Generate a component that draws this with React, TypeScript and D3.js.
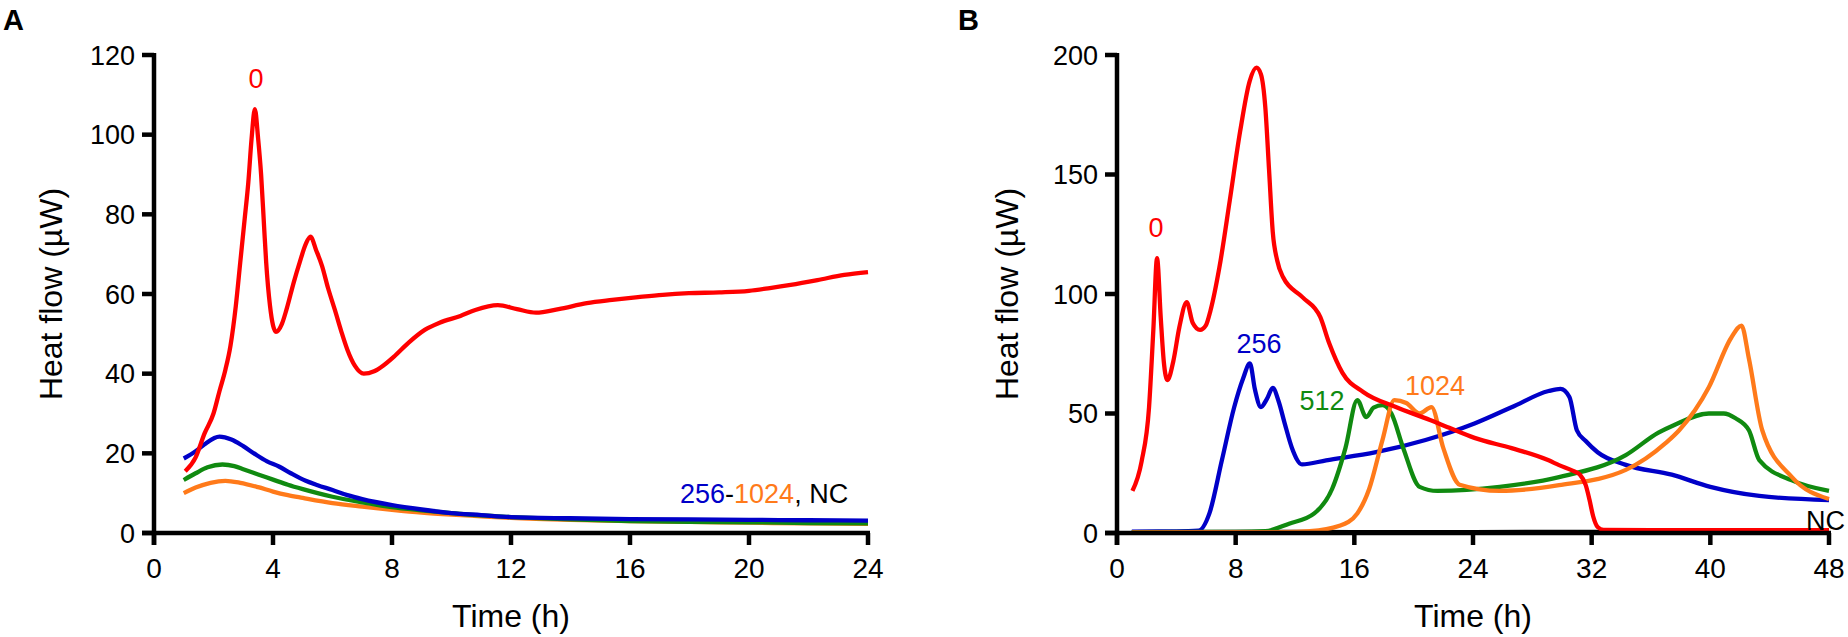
import React from "react";
import * as d3 from "d3";

// ---------- DATA ----------
// Panel A (0-24 h)
const aXTicks = [0, 4, 8, 12, 16, 20, 24];
const aYTicks = [0, 20, 40, 60, 80, 100, 120];
const aRed: [number, number][] = [
  [1.05, 15.5], [1.4, 19], [1.7, 25], [2.0, 30], [2.2, 35.6], [2.4, 41], [2.57, 47], [2.75, 57], [2.9, 68], [3.05, 79],
  [3.17, 88], [3.28, 99], [3.39, 106.4], [3.5, 99], [3.6, 90], [3.7, 77], [3.77, 68], [3.9, 57], [4.1, 50.5],
  [4.3, 52.5], [4.45, 56], [4.7, 63], [4.9, 68], [5.1, 72.5], [5.26, 74.4], [5.45, 71],
  [5.65, 67], [5.85, 61.5], [6.08, 56], [6.3, 50.5], [6.5, 46], [6.75, 42], [7.05, 40], [7.4, 40.6],
  [7.7, 42], [8.1, 44.5], [8.56, 47.8], [9.1, 51], [9.6, 52.8], [10.3, 54.5], [10.8, 56], [11.56, 57.2],
  [12.2, 56.2], [12.84, 55.3], [13.6, 56.2], [14.55, 57.7], [15.4, 58.5], [16.27, 59.2], [17.1, 59.8], [17.98, 60.2],
  [19.0, 60.4], [20.0, 60.8], [20.7, 61.5], [21.4, 62.3], [22.3, 63.5], [23.2, 64.8], [24.0, 65.5]
];
const aBlue: [number, number][] = [
  [1.0, 18.7], [1.4, 20.5], [1.7, 22.3], [2.2, 24.2], [2.6, 23.5], [3.0, 21.8], [3.4, 19.8], [3.8, 18.0], [4.2, 16.7],
  [4.6, 15.0], [5.1, 13.1], [5.5, 12.0], [6.0, 10.8], [6.5, 9.5], [7.0, 8.5], [8.0, 7.0], [9.0, 5.9], [10.0, 5.0],
  [11.0, 4.5], [12.0, 4.0], [14.0, 3.7], [16.0, 3.5], [18.0, 3.4], [20.0, 3.3], [22.0, 3.2], [24.0, 3.1]
];
const aGreen: [number, number][] = [
  [1.0, 13.3], [1.4, 15.0], [1.8, 16.5], [2.3, 17.2], [2.7, 16.8], [3.0, 16.0], [3.5, 14.7], [4.0, 13.4], [4.5, 12.1],
  [5.0, 11.0], [5.5, 10.0], [6.0, 9.1], [7.0, 7.7], [8.0, 6.5], [9.0, 5.7], [10.0, 5.0], [11.0, 4.4], [12.0, 4.0],
  [14.0, 3.4], [16.0, 3.0], [18.0, 2.8], [20.0, 2.7], [22.0, 2.5], [24.0, 2.4]
];
const aOrange: [number, number][] = [
  [1.0, 10.0], [1.4, 11.4], [1.9, 12.6], [2.4, 13.1], [2.9, 12.6], [3.5, 11.5], [4.0, 10.4], [4.5, 9.5], [5.0, 8.8],
  [6.0, 7.5], [7.0, 6.6], [8.0, 5.8], [9.0, 5.1], [10.0, 4.6], [11.0, 4.2], [12.0, 3.8], [14.0, 3.3], [16.0, 3.0],
  [18.0, 2.8], [20.0, 2.6], [22.0, 2.4], [24.0, 2.3]
];

// Panel B (0-48 h)
const bXTicks = [0, 8, 16, 24, 32, 40, 48];
const bYTicks = [0, 50, 100, 150, 200];
const bRed: [number, number][] = [
  [1.04, 17.6], [1.66, 30], [2.16, 52.6], [2.45, 85], [2.7, 115], [2.95, 90], [3.15, 72], [3.4, 64], [3.8, 72],
  [4.2, 86], [4.7, 96.6], [5.1, 88], [5.6, 85], [6.0, 87], [6.3, 93], [6.9, 111], [7.6, 139], [8.3, 168],
  [8.94, 189], [9.4, 194.7], [9.7, 192], [10.0, 178], [10.25, 152], [10.5, 126], [10.8, 114], [11.2, 107],
  [12.5, 98.7], [13.7, 90.4], [14.3, 79.5], [15.2, 67], [16.6, 59], [18.8, 52.7], [21.1, 47.3], [22.4, 44],
  [24.1, 39.8], [26.6, 35.5], [29.1, 30.4], [29.8, 28.4], [30.75, 26], [31.2, 24.5], [31.6, 20], [31.85, 14],
  [32.1, 7], [32.4, 2.5], [32.8, 1.3], [36, 1.2], [40, 1.2], [44, 1.2], [48, 1.2]
];
const bBlue: [number, number][] = [
  [1.0, 0.6], [4.0, 0.7], [5.5, 1.0], [6.23, 8.2], [7.07, 30.4], [7.9, 52.6], [8.5, 64.6], [8.96, 71],
  [9.3, 60], [9.7, 52.7], [10.1, 56], [10.5, 60.7], [10.9, 55], [11.3, 46], [11.8, 35.5], [12.47, 28.7],
  [14.1, 30.4], [17.46, 33.8], [20.8, 38.9], [24.1, 45.8], [26.6, 52.6], [29.1, 59.4], [29.9, 60.3],
  [30.5, 56.9], [31.0, 43], [31.6, 38.5], [32.4, 33.8], [34.3, 28.5], [37.4, 24.4], [40.0, 19.3],
  [43.3, 15.5], [48.0, 13.8]
];
const bGreen: [number, number][] = [
  [1.0, 0.4], [8.0, 0.5], [10.0, 0.8], [11.6, 3.9], [13.3, 8.2], [14.5, 18.4], [15.4, 35.5], [16.2, 55.6],
  [16.8, 48.5], [17.3, 52.5], [17.9, 53.5], [18.5, 50], [19.3, 35.5], [20.4, 19.3], [21.6, 17.6],
  [25.8, 19.3], [29.8, 23.4], [34.3, 32.6], [36.5, 42], [37.5, 45], [39.9, 50], [40.9, 50], [41.7, 48],
  [42.6, 43], [43.3, 30.5], [45.5, 22], [48.0, 17.6]
];
const bOrange: [number, number][] = [
  [1.0, 0.3], [11.0, 0.4], [13.0, 0.8], [15.0, 3.0], [16.2, 8.2], [17.0, 18.4], [17.9, 39], [18.7, 55.6],
  [19.5, 54.4], [20.4, 50], [21.2, 52.7], [22.0, 35.5], [23.1, 20.2], [25.8, 17.6], [29.8, 20], [34.3, 26.4],
  [37.0, 37.7], [37.9, 43], [39.9, 61], [41.4, 81.6], [42.1, 86.8], [42.6, 73], [43.5, 43], [45.5, 23.4],
  [48.0, 14.2]
];
const bNC: [number, number][] = [
  [1.0, 0.3], [8.0, 0.5], [16.0, 0.4], [24.0, 0.4], [32.0, 0.5], [40.0, 0.4], [48.0, 0.4]
];

// ---------- STYLE ----------
const RED = "#ff0000";
const BLUE = "#0000c8";
const GREEN = "#108a10";
const ORANGE = "#ff7a1a";
const FONT = "Arial, 'Liberation Sans', sans-serif";

type Series = { data: [number, number][]; color: string };

function Panel(props: {
  left: number; right: number; xMax: number; yMax: number;
  xTicks: number[]; yTicks: number[]; series: Series[];
  letter: string; letterX: number; yLabelX: number;
}) {
  const { left, right, xMax, yMax, xTicks, yTicks, series, letter, letterX, yLabelX } = props;
  const top = 55, bottom = 533;
  const x = d3.scaleLinear().domain([0, xMax]).range([left, right]);
  const y = d3.scaleLinear().domain([0, yMax]).range([bottom, top]);
  const line = d3.line<[number, number]>().x(d => x(d[0])).y(d => y(d[1])).curve(d3.curveMonotoneX);
  return (
    <g fontFamily={FONT}>
      <text x={letterX} y={30} fontSize={29} fontWeight="bold">{letter}</text>
      {series.map((s, i) => (
        <path key={i} d={line(s.data) || ""} fill="none" stroke={s.color} strokeWidth={4.3} strokeLinejoin="round" />
      ))}
      <line x1={left} x2={left} y1={top - 2} y2={bottom + 12} stroke="#000" strokeWidth={4.5} />
      <line x1={left - 12} x2={right + 2} y1={bottom} y2={bottom} stroke="#000" strokeWidth={4.5} />
      {yTicks.map(t => (
        <g key={"y" + t}>
          <line x1={left - 12} x2={left} y1={y(t)} y2={y(t)} stroke="#000" strokeWidth={4.5} />
          <text x={left - 19} y={y(t)} dy="0.36em" textAnchor="end" fontSize={27}>{t}</text>
        </g>
      ))}
      {xTicks.map(t => (
        <g key={"x" + t}>
          <line x1={x(t)} x2={x(t)} y1={bottom} y2={bottom + 12} stroke="#000" strokeWidth={4.5} />
          <text x={x(t)} y={578} textAnchor="middle" fontSize={28}>{t}</text>
        </g>
      ))}
      <text x={(left + right) / 2} y={627} textAnchor="middle" fontSize={32}>Time (h)</text>
      <text transform={`translate(${yLabelX},${(top + bottom) / 2}) rotate(-90)`} textAnchor="middle" fontSize={32}>
        Heat flow (µW)
      </text>
    </g>
  );
}

export default function App() {
  const aSeries: Series[] = [
    { data: aOrange, color: ORANGE },
    { data: aGreen, color: GREEN },
    { data: aBlue, color: BLUE },
    { data: aRed, color: RED },
  ];
  const bSeries: Series[] = [
    { data: bNC, color: "#000" },
    { data: bBlue, color: BLUE },
    { data: bGreen, color: GREEN },
    { data: bOrange, color: ORANGE },
    { data: bRed, color: RED },
  ];
  return (
    <svg width={1848} height={637} style={{ position: "absolute", left: 0, top: 0, background: "#fff" }}>
      <Panel left={154} right={868} xMax={24} yMax={120} xTicks={aXTicks} yTicks={aYTicks}
        series={aSeries} letter="A" letterX={3} yLabelX={62} />
      <Panel left={1117} right={1829} xMax={48} yMax={200} xTicks={bXTicks} yTicks={bYTicks}
        series={bSeries} letter="B" letterX={958} yLabelX={1018} />
      <g fontFamily={FONT} fontSize={27}>
        <text x={256} y={88} textAnchor="middle" fill={RED}>0</text>
        <text x={680} y={503}>
          <tspan fill={BLUE}>256</tspan><tspan fill="#000">-</tspan><tspan fill={ORANGE}>1024</tspan><tspan fill="#000">, NC</tspan>
        </text>
        <text x={1156} y={237} textAnchor="middle" fill={RED}>0</text>
        <text x={1259} y={353} textAnchor="middle" fill={BLUE}>256</text>
        <text x={1322} y={410} textAnchor="middle" fill={GREEN}>512</text>
        <text x={1435} y={395} textAnchor="middle" fill={ORANGE}>1024</text>
        <text x={1845} y={530} textAnchor="end" fill="#000">NC</text>
      </g>
    </svg>
  );
}
